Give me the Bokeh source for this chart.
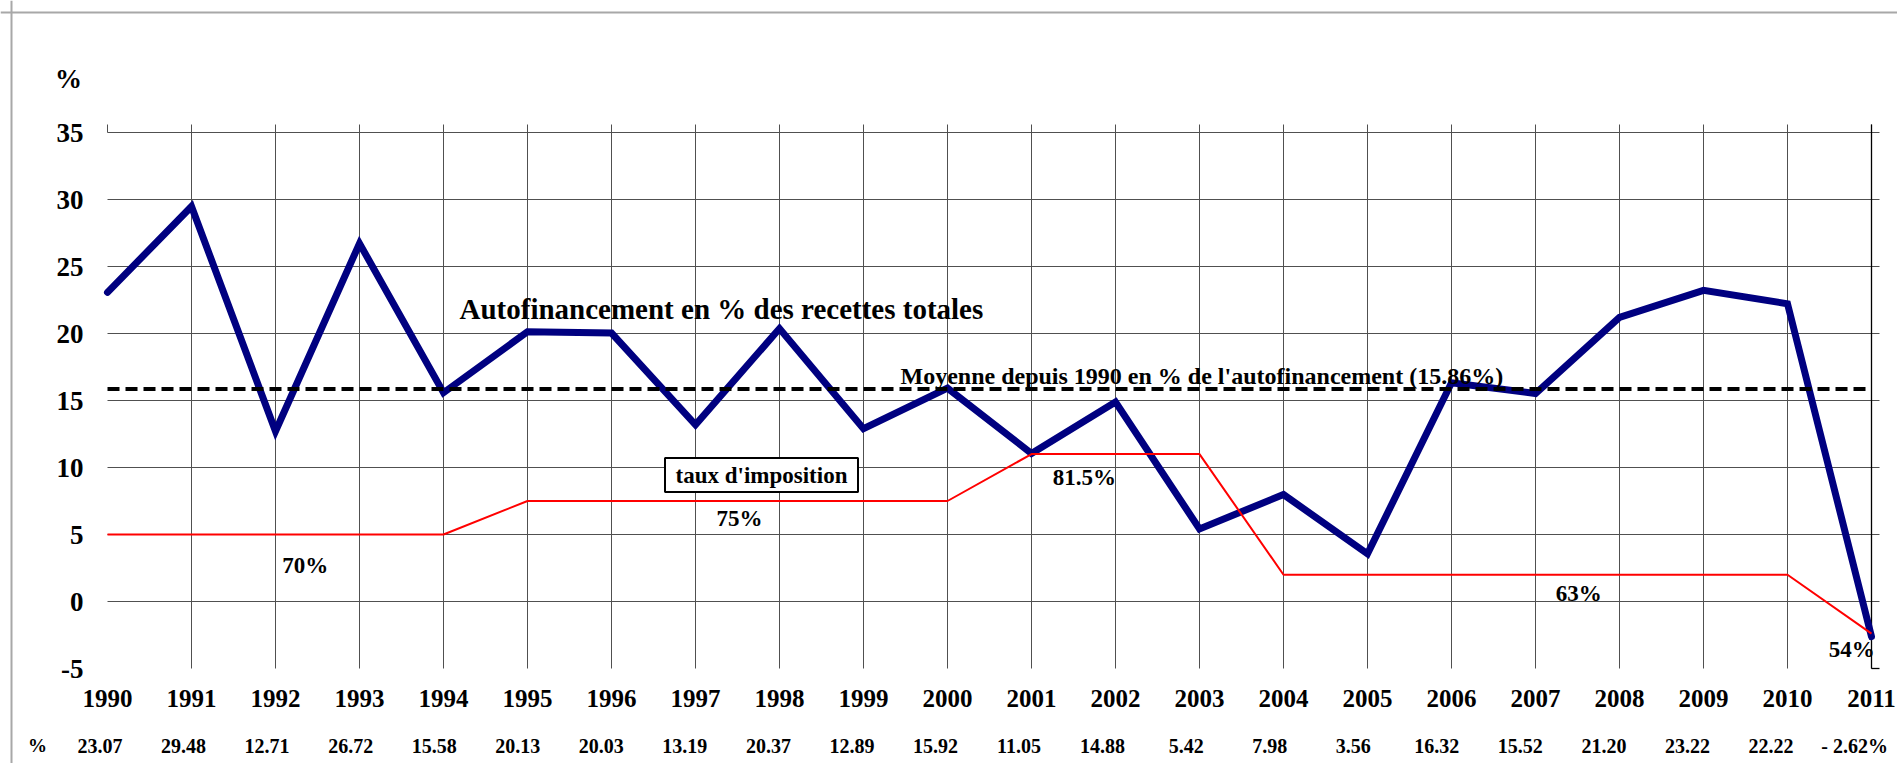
from bokeh.plotting import figure
from bokeh.models import Range1d, Span
from bokeh.core.properties import value
from bokeh.embed import file_html
from bokeh.resources import INLINE

# ---------------- data ----------------
years = list(range(1990, 2012))
autofin = [23.07, 29.48, 12.71, 26.72, 15.58, 20.13, 20.03, 13.19, 20.37, 12.89, 15.92,
           11.05, 14.88, 5.42, 7.98, 3.56, 16.32, 15.52, 21.20, 23.22, 22.22, -2.62]
tax_curve = [5, 5, 5, 5, 5, 7.5, 7.5, 7.5, 7.5, 7.5, 7.5, 11, 11, 11, 2, 2, 2, 2, 2, 2, 2, -2.4]
mean_autofin = 15.86
y_ticks = [-5, 0, 5, 10, 15, 20, 25, 30, 35]
rate_labels = ["70%", "75%", "81.5%", "63%", "54%"]
title_text = "Autofinancement en % des recettes totales"
mean_text = "Moyenne depuis 1990 en %  de l'autofinancement (15.86%)"
box_text = "taux d'imposition"


def fmt(v):
    return f"{v:.2f}" if v >= 0 else f"- {abs(v):.2f}%"


value_labels = [fmt(v) for v in autofin]

# ---------------- layout (canvas pixels) ----------------
W, H = 1897, 763
LEFT_PX, TOP_PX = 107, 132        # where 1990 / 35 sit on the canvas
PXY, PXU = 84.0, 13.4             # px per year, px per unit
xs0 = years[0] - LEFT_PX / PXY
yt0 = y_ticks[-1] + TOP_PX / PXU


def X(px):
    return xs0 + px / PXY


def Y(py):
    return yt0 - py / PXU


FONT = value("Liberation Serif")

p = figure(width=W, height=H, output_backend="svg", toolbar_location=None, title=None,
           x_range=Range1d(X(0), X(W)), y_range=Range1d(Y(H), Y(0)),
           x_axis_location=None, y_axis_location=None, min_border=0)
p.outline_line_color = None
p.grid.visible = False
p.background_fill_color = "white"
p.border_fill_color = "white"

top_y = Y(124)
right_x = X(1879)
GRID = "#505050"

# grid lines from the tick arrays
p.segment(x0=years[1:], y0=[y_ticks[0]] * (len(years) - 1), x1=years[1:],
          y1=[top_y] * (len(years) - 1), line_color=GRID, line_width=1)
p.segment(x0=[years[0]] * (len(y_ticks) - 1), y0=y_ticks[1:], x1=[right_x] * (len(y_ticks) - 1),
          y1=y_ticks[1:], line_color=GRID, line_width=1)
p.segment(x0=[years[0]], y0=[y_ticks[-1]], x1=[years[0]], y1=[top_y], line_color=GRID, line_width=1)
p.segment(x0=[years[-1]], y0=[y_ticks[0]], x1=[years[-1]], y1=[top_y], line_color="black", line_width=1.3)
p.segment(x0=[years[-1]], y0=[y_ticks[0]], x1=[right_x], y1=[y_ticks[0]], line_color="black", line_width=1.3)

# tick labels
p.text(x=[X(83)] * len(y_ticks), y=y_ticks, text=[str(t) for t in y_ticks], text_font=FONT,
       text_font_style="bold", text_font_size="27px", text_align="right", text_baseline="middle",
       text_color="black")
p.text(x=years, y=[Y(698)] * len(years), text=[str(y) for y in years], text_font=FONT,
       text_font_style="bold", text_font_size="25px", text_align="center", text_baseline="middle",
       text_color="black")
val_x = [X(99.5 + 83.55 * (y - years[0])) for y in years]
p.text(x=val_x, y=[Y(745)] * len(years), text=value_labels, text_font=FONT,
       text_font_style="bold", text_font_size="20px", text_align="center", text_baseline="middle",
       text_color="black")

# series
p.line(years, autofin, line_color="#000080", line_width=7, line_join="miter", line_cap="round")
p.line(years, tax_curve, line_color="#ff0000", line_width=2)
p.line([years[0], years[-1]], [mean_autofin, mean_autofin], line_color="black",
       line_width=4, line_dash="12 6")

# box label
p.rect(x=[X(761)], y=[Y(474.5)], width=193, height=34, width_units="screen", height_units="screen",
       fill_color="white", line_color="black", line_width=2)


def lab(text, px, py, size, align="center"):
    p.text(x=[X(px)], y=[Y(py)], text=[text], text_font=FONT, text_font_style="bold",
           text_font_size=size, text_align=align, text_baseline="middle", text_color="black")


lab(box_text, 761, 474.5, "23px")
lab("%", 68, 78, "27px")
lab("%", 37, 745, "19px")
lab(title_text, 459, 308, "29px", align="left")
lab(mean_text, 900, 375, "24px", align="left")
rate_pos = [(304.7, 565), (739, 518.3), (1083.8, 477.3), (1578.3, 592.7), (1851.3, 649.3)]
for t, (px, py) in zip(rate_labels, rate_pos):
    lab(t, px, py, "23px")

# outer frame of the picture (left and top edges visible)
p.add_layout(Span(location=X(11), dimension="height", line_color="#a8a8a8", line_width=2))
p.add_layout(Span(location=Y(12), dimension="width", line_color="#a8a8a8", line_width=2))

open("out.html", "w").write(file_html(p, INLINE))
